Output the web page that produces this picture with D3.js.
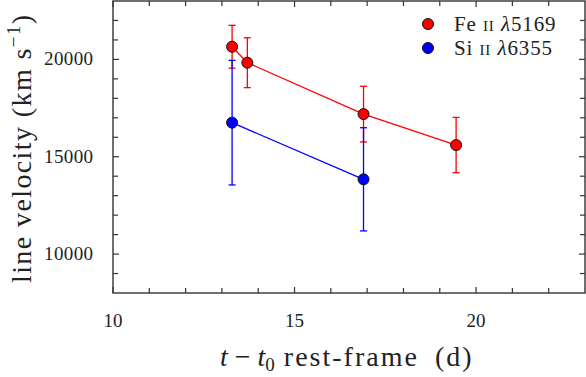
<!DOCTYPE html>
<html>
<head>
<meta charset="utf-8">
<script src="https://cdn.jsdelivr.net/npm/d3@7"></script>
<style>
  body { margin: 0; background: #fff; }
  text { font-family: "Liberation Serif", "DejaVu Serif", serif; fill: #222; }
</style>
</head>
<body>
<script>
// Fe II 5169 velocities
var feDays = [13.28, 13.7, 16.9, 19.45];
var feVel = [20650, 19830, 17190, 15600];
var feErr = [1100, 1280, 1430, 1420];
// Si II 6355 velocities
var siDays = [13.28, 16.9];
var siVel = [16750, 13840];
var siErr = [3200, 2650];

var xTicks = [10, 15, 20];
var yTicks = [10000, 15000, 20000];

var W = 586, H = 377;
var m = { left: 113, right: 1, top: 1, bottom: 84 };

var svg = d3.select("body").append("svg")
  .attr("width", W)
  .attr("height", H);

var x = d3.scaleLinear().domain([10, 23]).range([m.left, W - m.right]);
var y = d3.scaleLinear().domain([8000, 23000]).range([H - m.bottom, m.top]);

var spine = "#333";

// minor + major ticks, pointing inward on all four sides
function ticks(g, scale, vals, len, side) {
  vals.forEach(function(v) {
    var p = scale(v);
    if (side == "bottom") g.append("line").attr("x1", p).attr("x2", p).attr("y1", y.range()[0]).attr("y2", y.range()[0] - len);
    if (side == "top") g.append("line").attr("x1", p).attr("x2", p).attr("y1", y.range()[1]).attr("y2", y.range()[1] + len);
    if (side == "left") g.append("line").attr("y1", p).attr("y2", p).attr("x1", x.range()[0]).attr("x2", x.range()[0] + len);
    if (side == "right") g.append("line").attr("y1", p).attr("y2", p).attr("x1", x.range()[1]).attr("x2", x.range()[1] - len);
  });
}

var tg = svg.append("g").attr("stroke", spine).attr("stroke-width", 1.2);
var xMinor = d3.range(11, 23).filter(function(d) { return d % 5 != 0; });
var yMinor = d3.range(9000, 23000, 1000).filter(function(d) { return d % 5000 != 0; });
["bottom", "top"].forEach(function(s) {
  ticks(tg, x, xTicks, 6, s);
  ticks(tg, x, xMinor, 5, s);
});
["left", "right"].forEach(function(s) {
  ticks(tg, y, yTicks, 6, s);
  ticks(tg, y, yMinor, 5, s);
});

// frame
svg.append("rect")
  .attr("x", x.range()[0]).attr("y", y.range()[1])
  .attr("width", x.range()[1] - x.range()[0])
  .attr("height", y.range()[0] - y.range()[1])
  .attr("fill", "none").attr("stroke", spine).attr("stroke-width", 1.4);

// tick labels
svg.append("g").selectAll("text").data(xTicks).join("text")
  .attr("x", d => x(d)).attr("y", H - m.bottom + 34)
  .attr("text-anchor", "middle").attr("font-size", 19)
  .text(d => d);
svg.append("g").selectAll("text").data(yTicks).join("text")
  .attr("x", m.left - 20).attr("y", d => y(d) + 6)
  .attr("text-anchor", "end").attr("font-size", 19)
  .attr("textLength", 49).attr("lengthAdjust", "spacing")
  .text(d => d);

// axis titles
var xt = svg.append("text")
  .attr("x", 220).attr("y", 366)
  .attr("font-size", 28);
xt.append("tspan").attr("font-style", "italic").text("t");
xt.append("tspan").text(" \u2212 ");
xt.append("tspan").attr("font-style", "italic").text("t");
xt.append("tspan").attr("font-size", 19).attr("dy", 5).text("0");
xt.append("tspan").attr("dy", -5).attr("letter-spacing", 2).text(" rest-frame\u2002(d)");

var yt = svg.append("text")
  .attr("transform", "translate(31," + 283 + ") rotate(-90)")
  .attr("font-size", 28)
  .attr("letter-spacing", 1.4);
yt.append("tspan").text("line velocity (km s");
yt.append("tspan").attr("font-size", 19).attr("dy", -11).text("\u22121");
yt.append("tspan").attr("dy", 11).text(")");

// series
function series(days, vel, err, col) {
  var pts = days.map(function(d, i) { return { x: d, y: vel[i], e: err[i] }; });
  var g = svg.append("g");
  g.append("path")
    .attr("d", d3.line().x(d => x(d.x)).y(d => y(d.y))(pts))
    .attr("fill", "none").attr("stroke", col).attr("stroke-width", 1.3);
  var eb = g.selectAll("g.eb").data(pts).join("g")
    .attr("stroke", col).attr("stroke-width", 1.3);
  eb.append("line")
    .attr("x1", d => x(d.x)).attr("x2", d => x(d.x))
    .attr("y1", d => y(d.y - d.e)).attr("y2", d => y(d.y + d.e));
  [-1, 1].forEach(function(s) {
    eb.append("line")
      .attr("x1", d => x(d.x) - 3.5).attr("x2", d => x(d.x) + 3.5)
      .attr("y1", d => y(d.y + s * d.e)).attr("y2", d => y(d.y + s * d.e));
  });
  g.selectAll("circle").data(pts).join("circle")
    .attr("cx", d => x(d.x)).attr("cy", d => y(d.y)).attr("r", 5.5)
    .attr("fill", col).attr("stroke", "#111").attr("stroke-width", 1);
}
series(feDays, feVel, feErr, "#ff0000");
series(siDays, siVel, siErr, "#0000ff");

// legend
var legend = [
  { col: "#ff0000", el: "Fe", wl: "5169" },
  { col: "#0000ff", el: "Si", wl: "6355" }
];
legend.forEach(function(l, i) {
  var ly = 24 + i * 24;
  svg.append("circle").attr("cx", 428).attr("cy", ly).attr("r", 5.5)
    .attr("fill", l.col).attr("stroke", "#111").attr("stroke-width", 1);
  var t = svg.append("text").attr("x", 454).attr("y", ly + 7).attr("font-size", 21)
    .attr("letter-spacing", 0.9);
  t.append("tspan").text(l.el + " ");
  t.append("tspan").attr("font-size", 15).text("II");
  t.append("tspan").text(" ");
  t.append("tspan").attr("font-style", "italic").text("\u03bb");
  t.append("tspan").text(l.wl);
});
</script>
</body>
</html>
